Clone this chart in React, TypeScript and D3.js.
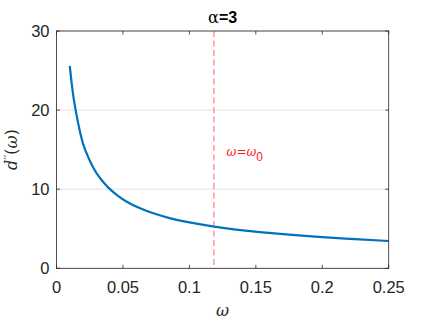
import React from 'react';
import * as d3 from 'd3';

// values
const omega = [0.01, 0.012, 0.0145, 0.018, 0.0215, 0.0277, 0.033, 0.039, 0.046, 0.0529, 0.062, 0.0729, 0.085, 0.098, 0.1186, 0.135, 0.153, 0.175, 0.2, 0.225, 0.25];
const dpp = [25.6, 22.6, 19.9, 17.0, 15.0, 12.7, 11.35, 10.2, 9.2, 8.42, 7.65, 6.95, 6.35, 5.86, 5.27, 4.9, 4.58, 4.26, 3.95, 3.68, 3.45];
const xTicks = [0, 0.05, 0.1, 0.15, 0.2, 0.25];
const yTicks = [0, 10, 20, 30];
const omega0 = 0.1184;

const W = 429;
const H = 322;
const m = { left: 56.5, right: 429 - 388.7, top: 31, bottom: 322 - 268.3 };

const App = () => {
  const x = d3.scaleLinear().domain([0, 0.25]).range([m.left, W - m.right]);
  const y = d3.scaleLinear().domain([0, 30]).range([H - m.bottom, m.top]);

  const pts: [number, number][] = omega.map((w, i) => [w, dpp[i]]);
  const line = d3
    .line<[number, number]>()
    .x((d) => x(d[0]))
    .y((d) => y(d[1]))
    .curve(d3.curveNatural);

  const axisColor = '#262626';
  const sans = '"Liberation Sans", Arial, Helvetica, sans-serif';
  const serif = '"DejaVu Serif", "Liberation Serif", serif';
  const x0 = m.left;
  const x1 = W - m.right;
  const y0 = H - m.bottom;
  const y1 = m.top;

  return (
    <svg width={W} height={H} style={{ position: 'absolute', left: 0, top: 0, background: '#fff' }}>
      <rect x={0} y={0} width={W} height={H} fill="#fff" />
      {/* horizontal grid */}
      {yTicks.map((t) => (
        <line key={'g' + t} x1={x0} x2={x1} y1={y(t)} y2={y(t)} stroke="#e3e3e3" strokeWidth={1} />
      ))}

      {/* omega_0 marker */}
      <line
        x1={x(omega0)}
        x2={x(omega0)}
        y1={y1}
        y2={y0}
        stroke="#ff9a9a"
        strokeWidth={1.5}
        strokeDasharray="6 3.5"
      />
      <text x={x(0.128)} y={y(14.2)} fill="#ff1a1a" fontFamily={serif} fontSize={12} fontStyle="italic">
        ω<tspan fontStyle="normal">=</tspan>ω
        <tspan dy={5} fontSize={12} fontStyle="normal" fontFamily={sans}>0</tspan>
      </text>

      {/* curve */}
      <path d={line(pts) || ''} fill="none" stroke="#0072BD" strokeWidth={2.2} />

      {/* box */}
      <rect x={x0} y={y1} width={x1 - x0} height={y0 - y1} fill="none" stroke={axisColor} strokeWidth={0.8} />

      {/* x ticks */}
      {xTicks.map((t) => (
        <g key={'x' + t}>
          <line x1={x(t)} x2={x(t)} y1={y0} y2={y0 - 3.5} stroke={axisColor} strokeWidth={0.8} />
          <line x1={x(t)} x2={x(t)} y1={y1} y2={y1 + 3.5} stroke={axisColor} strokeWidth={0.8} />
          <text x={x(t)} y={y0 + 25} textAnchor="middle" fontFamily={sans} fontSize={16.5} fill={axisColor}>
            {d3.format('')(t)}
          </text>
        </g>
      ))}

      {/* y ticks */}
      {yTicks.map((t) => (
        <g key={'y' + t}>
          <line x1={x0} x2={x0 + 3.5} y1={y(t)} y2={y(t)} stroke={axisColor} strokeWidth={0.8} />
          <line x1={x1} x2={x1 - 3.5} y1={y(t)} y2={y(t)} stroke={axisColor} strokeWidth={0.8} />
          <text x={x0 - 7} y={y(t) + 6} textAnchor="end" fontFamily={sans} fontSize={16.5} fill={axisColor}>
            {t}
          </text>
        </g>
      ))}

      {/* title */}
      <text x={(x0 + x1) / 2} y={22.5} textAnchor="middle" fontSize={16} fill="#000">
        <tspan fontFamily={serif}>α</tspan>
        <tspan fontFamily={sans} fontWeight="bold">=3</tspan>
      </text>

      {/* x label */}
      <text x={(x0 + x1) / 2} y={316} textAnchor="middle" fontFamily={serif} fontStyle="italic" fontSize={16} fill={axisColor}>
        ω
      </text>

      {/* y label */}
      <text
        transform={`translate(17, ${(y0 + y1) / 2}) rotate(-90)`}
        textAnchor="middle"
        fontFamily={serif}
        fontSize={16}
        fill={axisColor}
      >
        <tspan fontStyle="italic">d</tspan>
        <tspan dy={-5} fontSize={11}>′′</tspan>
        <tspan dy={5}>(</tspan>
        <tspan fontStyle="italic">ω</tspan>
        <tspan>)</tspan>
      </text>
    </svg>
  );
};

export default App;
